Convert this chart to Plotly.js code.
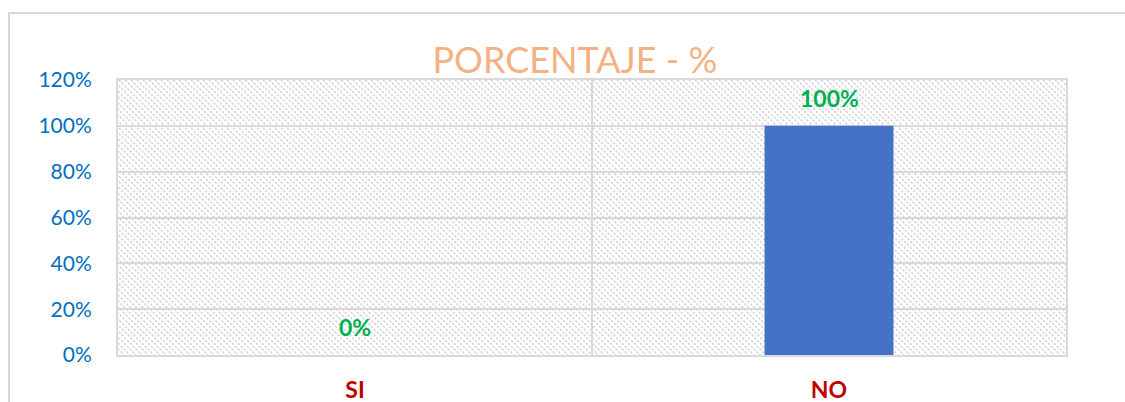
<!DOCTYPE html>
<html>
<head>
<meta charset="utf-8">
<script src="https://cdn.plot.ly/plotly-3.0.1.min.js"></script>
<style>
  html, body { margin: 0; padding: 0; background: #fff; }
  #frame { position: absolute; left: 8px; top: 12px; width: 1200px; height: 500px;
           border-top: 2px solid #d9d9d9; border-left: 2px solid #d9d9d9; }
  #chart { position: absolute; left: 0; top: 0; width: 1125px; height: 402px; }
</style>
</head>
<body>
<div id="frame"></div>
<div id="chart"></div>
<script>
const categories = ["SI", "NO"];
const values = [0, 1];
const labels = ["0%", "100%"];
const yTickVals = [0, 0.2, 0.4, 0.6, 0.8, 1.0, 1.2];

// hatch background pattern (decoration)
const W = 948, H = 275;
let hatch = '';
for (let k = -H; k < W; k += 6) {
  hatch += `<line x1="${k}" y1="0" x2="${k + H}" y2="${H}" stroke="#d0d0d0" stroke-width="1.4" stroke-dasharray="2.5,1.5"/>`;
}
const svg = `<svg xmlns="http://www.w3.org/2000/svg" width="${W}" height="${H}" viewBox="0 0 ${W} ${H}">${hatch}</svg>`;
const svgUri = 'data:image/svg+xml;charset=utf-8,' + encodeURIComponent(svg);

const trace = {
  type: 'bar',
  x: categories,
  y: values,
  width: 0.272,
  marker: { color: '#4472C4' },
  hoverinfo: 'none'
};

const annotations = categories.map((c, i) => ({
  x: c, y: values[i], xref: 'x', yref: 'y',
  text: '<b>' + labels[i] + '</b>',
  showarrow: false, yanchor: 'bottom', yshift: 12,
  font: { family: 'Lato, sans-serif', size: 23, color: '#00B050' }
}));

const layout = {
  width: 1125, height: 402,
  margin: { l: 118, r: 59, t: 80, b: 47 },
  paper_bgcolor: 'rgba(0,0,0,0)',
  plot_bgcolor: 'rgba(0,0,0,0)',
  showlegend: false,
  title: {
    text: 'PORCENTAJE - %',
    font: { family: 'Lato, sans-serif', size: 36, color: '#F4B183' },
    x: 0.511, xref: 'container', xanchor: 'center',
    y: 1 - 60 / 402, yref: 'container', yanchor: 'middle'
  },
  xaxis: {
    type: 'category',
    tickson: 'boundaries',
    showgrid: true, gridcolor: '#d9d9d9', gridwidth: 2,
    showline: true, linecolor: '#d9d9d9', linewidth: 2, mirror: true,
    ticks: '', ticklabelstandoff: 13,
    tickfont: { family: 'Lato, sans-serif', size: 23, color: '#C00000', weight: 'bold' },
    fixedrange: true
  },
  yaxis: {
    range: [0, 1.2],
    tickvals: yTickVals,
    tickformat: '.0%',
    showgrid: true, gridcolor: '#d9d9d9', gridwidth: 2,
    zeroline: false,
    showline: true, linecolor: '#d9d9d9', linewidth: 2, mirror: true,
    ticks: '', ticklabelstandoff: 20,
    tickfont: { family: 'Lato, sans-serif', size: 21, color: '#0070C0' },
    fixedrange: true
  },
  annotations: annotations,
  images: [{
    source: svgUri, xref: 'paper', yref: 'paper',
    x: 0, y: 1, sizex: 1, sizey: 1, xanchor: 'left', yanchor: 'top',
    sizing: 'stretch', layer: 'below'
  }]
};

Plotly.newPlot('chart', [trace], layout, { displayModeBar: false, staticPlot: true });
</script>
</body>
</html>
